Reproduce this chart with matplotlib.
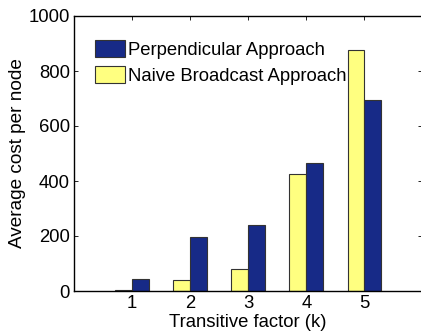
import matplotlib
matplotlib.use("Agg")
import matplotlib.pyplot as plt
import numpy as np

plt.rcParams['font.family'] = ['Liberation Sans', 'DejaVu Sans']

k_values = [1, 2, 3, 4, 5]
perpendicular = [44, 197, 241, 465, 693]
naive = [3, 39, 80, 427, 875]
series_labels = ["Perpendicular Approach", "Naive Broadcast Approach"]

blue = "#172a87"
yellow = "#ffff80"
fs = 13.3

fig = plt.figure(figsize=(4.21, 3.31), dpi=100)
ax = fig.add_axes([74/421, 1-291/331, 348.5/421, 275/331])

x = np.array(k_values, dtype=float)
w = 0.29
bn = ax.bar(x - w/2, naive, width=w, color=yellow, edgecolor="#333333", linewidth=0.8, label=series_labels[1])
bp = ax.bar(x + w/2, perpendicular, width=w, color=blue, edgecolor="#333333", linewidth=0.8, label=series_labels[0])

ax.set_xlim(0, 6)
ax.set_ylim(0, 1000)
ax.set_xticks(k_values)
ax.set_yticks([0, 200, 400, 600, 800, 1000])
ax.tick_params(direction='in', length=3, width=0.6, top=True, right=True, labelsize=fs, pad=3)
for s in ax.spines.values():
    s.set_linewidth(1.0)
ax.set_xlabel("Transitive factor (k)", fontsize=fs, labelpad=1)
ax.set_ylabel("Average cost per node", fontsize=fs + 0.4, labelpad=2)

leg = ax.legend([bp, bn], series_labels, loc='upper left',
                bbox_to_anchor=(95/421, 1-40/331), bbox_transform=fig.transFigure,
                frameon=False, fontsize=fs, handlelength=1.6, handleheight=1.0,
                handletextpad=0.2, labelspacing=0.4, borderpad=0, borderaxespad=0)
leg.set_zorder(1)
for b in list(bn) + list(bp):
    b.set_zorder(2)

fig.savefig("out.png", dpi=100)
